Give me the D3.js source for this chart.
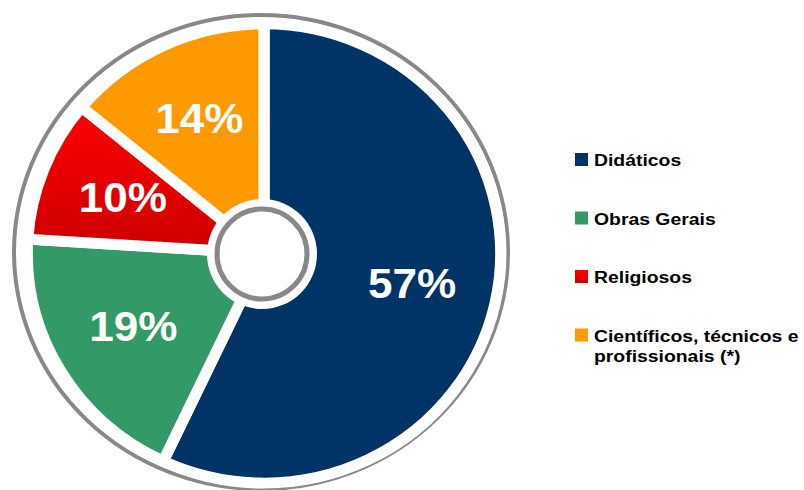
<!DOCTYPE html>
<html>
<head>
<meta charset="utf-8">
<script src="https://cdn.jsdelivr.net/npm/d3@7"></script>
<style>
  body { margin: 0; background: #fff; }
  text { font-family: "Liberation Sans", Arial, sans-serif; font-weight: bold; }
</style>
</head>
<body>
<div id="chart"></div>
<script>
const categories = ["Didáticos", "Obras Gerais", "Religiosos", "Científicos, técnicos e profissionais (*)"]
const legendLines = [["Didáticos"], ["Obras Gerais"], ["Religiosos"], ["Científicos, técnicos e", "profissionais (*)"]]
const shares = [57, 19, 10, 14]
const colors = ["#003366", "#339966", "url(#redGrad)", "#ff9900"]

const width = 804, height = 490
const cx = 264, cy = 253.5

const svg = d3.select("#chart")
  .append("svg")
    .attr("width", width)
    .attr("height", height)

const defs = svg.append("defs")
const grad = defs.append("linearGradient")
  .attr("id", "redGrad")
  .attr("x1", 0).attr("y1", 0).attr("x2", 0).attr("y2", 1)
grad.append("stop").attr("offset", "0%").attr("stop-color", "#ff0000")
grad.append("stop").attr("offset", "100%").attr("stop-color", "#cc0000")

// outer gray ring
svg.append("ellipse")
  .attr("cx", 261).attr("cy", 252)
  .attr("rx", 247).attr("ry", 237)
  .attr("fill", "none")
  .attr("stroke", "#888888")
  .attr("stroke-width", 4)

const pie = d3.pie().sort(null).value(d => d)
const arcs = pie(shares)

const r = 231
const arc = d3.arc().innerRadius(0).outerRadius(r)
const labelArc = d3.arc().innerRadius(148).outerRadius(148)

const g = svg.append("g")
  .attr("transform", "translate(" + cx + "," + cy + ") scale(1.025,0.994)")

g.selectAll("path")
  .data(arcs)
  .enter()
  .append("path")
    .attr("d", arc)
    .attr("fill", (d, i) => colors[i])
    .attr("stroke", "#fff")
    .attr("stroke-width", 11)
    .attr("stroke-linejoin", "miter")

// center hole
svg.append("circle")
  .attr("cx", 262).attr("cy", 254).attr("r", 55)
  .attr("fill", "#fff")
svg.append("circle")
  .attr("cx", 262).attr("cy", 254).attr("r", 45)
  .attr("fill", "#fff")
  .attr("stroke", "#888888")
  .attr("stroke-width", 5)

// percent labels
g.selectAll("text")
  .data(arcs)
  .enter()
  .append("text")
    .attr("transform", d => "translate(" + labelArc.centroid(d) + ")")
    .attr("text-anchor", "middle")
    .attr("dy", "0.3em")
    .attr("fill", "#fff")
    .style("font-size", "43px")
    .text(d => d.data + "%")

// legend
const legend = svg.append("g")
  .selectAll("g")
  .data(categories)
  .enter()
  .append("g")
    .attr("transform", (d, i) => "translate(575," + (153 + i * 58.5) + ")")

legend.append("rect")
  .attr("width", 13)
  .attr("height", 13)
  .attr("fill", (d, i) => colors[i])

legend.append("text")
  .attr("transform", "translate(19,13) scale(1.14,1)")
  .style("font-size", "17px")
  .attr("fill", "#000")
  .selectAll("tspan")
  .data((d, i) => legendLines[i])
  .enter()
  .append("tspan")
    .attr("x", 0)
    .attr("dy", (d, j) => j == 0 ? 0 : 21)
    .text(d => d)
</script>
</body>
</html>
